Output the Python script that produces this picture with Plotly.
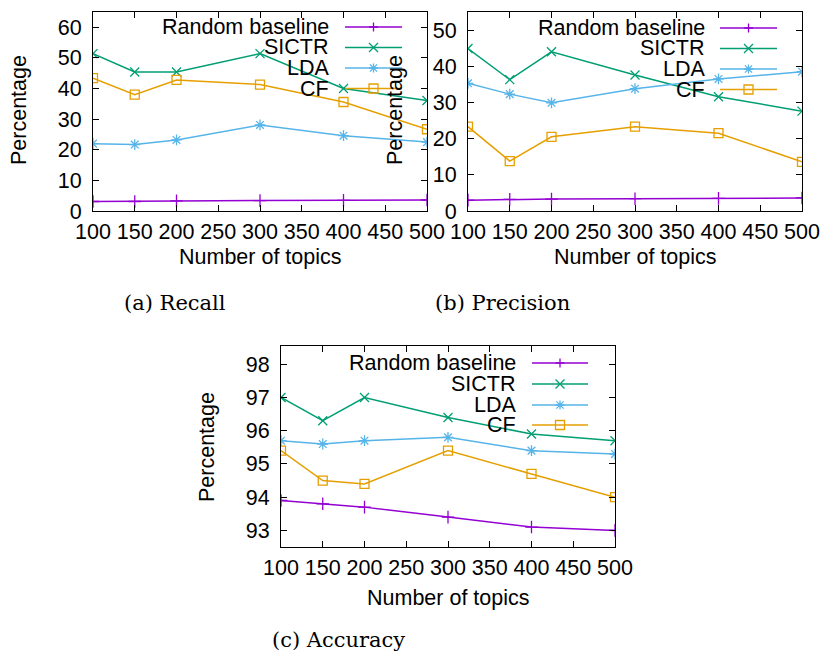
import plotly.graph_objects as go

W, H = 825, 652

topics = [100, 150, 200, 300, 400, 500]
series_names = ["Random baseline", "SICTR", "LDA", "CF"]

recall_random = [3.1, 3.1, 3.3, 3.4, 3.5, 3.6]
recall_sictr = [51.4, 45.4, 45.4, 51.4, 40.0, 36.1]
recall_lda = [22.0, 21.7, 23.2, 28.1, 24.6, 22.5]
recall_cf = [43.4, 38.0, 42.8, 41.3, 35.6, 26.7]

precision_random = [3.0, 3.2, 3.3, 3.4, 3.5, 3.6]
precision_sictr = [44.9, 36.3, 44.0, 37.6, 31.6, 27.6]
precision_lda = [35.3, 32.3, 29.9, 33.8, 36.5, 38.5]
precision_cf = [23.3, 13.8, 20.5, 23.3, 21.5, 13.6]

accuracy_random = [93.9, 93.8, 93.7, 93.4, 93.1, 93.0]
accuracy_sictr = [97.0, 96.3, 97.0, 96.4, 95.9, 95.7]
accuracy_lda = [95.7, 95.6, 95.7, 95.8, 95.4, 95.3]
accuracy_cf = [95.4, 94.5, 94.4, 95.4, 94.7, 94.0]

x_ticks = [100, 150, 200, 250, 300, 350, 400, 450, 500]
captions = ["(a) Recall", "(b) Precision", "(c) Accuracy"]

colors = ["#9400D3", "#009E73", "#56B4E9", "#E69F00"]
symbols = ["cross-thin-open", "x-thin-open", "asterisk-open", "square-open"]

FONT = "Liberation Sans"
FS = 21.5

def px(x):
    return x / W

def py(y):
    return 1 - y / H

# panel pixel boxes: (left, right, top, bottom)
panels = [
    dict(box=(93, 427, 12, 211), yr=[0, 65], dt=10,
         data=[recall_random, recall_sictr, recall_lda, recall_cf],
         leg=dict(tx=331, l0=345, l1=402, ys=[27, 47.5, 68, 88.5]),
         ytitle=(19, 110), xtitle=(260, 257), cap=(175, 303)),
    dict(box=(468, 802, 12, 211), yr=[0, 55], dt=10,
         data=[precision_random, precision_sictr, precision_lda, precision_cf],
         leg=dict(tx=707, l0=720, l1=777, ys=[28, 48.5, 69, 89.5]),
         ytitle=(395, 110), xtitle=(635, 257), cap=(502, 303)),
    dict(box=(281, 615, 346, 547), yr=[92.5, 98.55], dt=1,
         data=[accuracy_random, accuracy_sictr, accuracy_lda, accuracy_cf],
         leg=dict(tx=518, l0=532, l1=588, ys=[363, 384, 405, 425]),
         ytitle=(207, 447), xtitle=(448, 598), cap=(338, 640)),
]

fig = go.Figure()
annotations = []
shapes = []

for i, p in enumerate(panels):
    n = "" if i == 0 else str(i + 1)
    L, R, T, B = p["box"]
    axis_common = dict(showline=True, linecolor="black", linewidth=1,
                       mirror="ticks", ticks="inside", ticklen=6,
                       tickcolor="black", tickwidth=1, showgrid=False,
                       zeroline=False, automargin=False,
                       tickfont=dict(family=FONT, size=FS, color="black"))
    fig.layout["xaxis" + n] = dict(domain=[px(L), px(R)], range=[100, 500],
                                   tickvals=x_ticks, anchor="y" + n,
                                   ticklabelstandoff=1, **axis_common)
    fig.layout["yaxis" + n] = dict(domain=[py(B), py(T)], range=p["yr"],
                                   dtick=p["dt"], anchor="x" + n,
                                   ticklabelstandoff=6, **axis_common)
    for k in range(4):
        fig.add_trace(go.Scatter(
            x=topics, y=p["data"][k], mode="lines+markers",
            name=series_names[k], showlegend=False,
            line=dict(color=colors[k], width=1.5),
            marker=dict(symbol=symbols[k], size=9, color=colors[k],
                        line=dict(color=colors[k], width=1.3)),
            xaxis="x" + n, yaxis="y" + n))
    # legend (gnuplot style: text right aligned, sample on right)
    lg = p["leg"]
    for k in range(4):
        yy = lg["ys"][k]
        annotations.append(dict(x=px(lg["tx"]), y=py(yy), xref="paper", yref="paper",
                                text=series_names[k], showarrow=False,
                                xanchor="right", yanchor="middle",
                                font=dict(family=FONT, size=FS, color="black")))
        shapes.append(dict(type="line", xref="paper", yref="paper",
                           x0=px(lg["l0"]), x1=px(lg["l1"]), y0=py(yy), y1=py(yy),
                           line=dict(color=colors[k], width=1.5)))
        mx = (lg["l0"] + lg["l1"]) / 2
        s = 4.5
        if k == 0:
            path = f"M{px(mx-s)},{py(yy)} L{px(mx+s)},{py(yy)} M{px(mx)},{py(yy-s)} L{px(mx)},{py(yy+s)}"
        elif k == 1:
            path = f"M{px(mx-s)},{py(yy-s)} L{px(mx+s)},{py(yy+s)} M{px(mx-s)},{py(yy+s)} L{px(mx+s)},{py(yy-s)}"
        elif k == 2:
            path = (f"M{px(mx-s)},{py(yy)} L{px(mx+s)},{py(yy)} M{px(mx)},{py(yy-s)} L{px(mx)},{py(yy+s)}"
                    f" M{px(mx-s*0.8)},{py(yy-s*0.8)} L{px(mx+s*0.8)},{py(yy+s*0.8)}"
                    f" M{px(mx-s*0.8)},{py(yy+s*0.8)} L{px(mx+s*0.8)},{py(yy-s*0.8)}")
        else:
            path = (f"M{px(mx-s)},{py(yy-s)} L{px(mx+s)},{py(yy-s)} L{px(mx+s)},{py(yy+s)}"
                    f" L{px(mx-s)},{py(yy+s)} Z")
        shapes.append(dict(type="path", xref="paper", yref="paper", path=path,
                           line=dict(color=colors[k], width=1.3)))
    # axis titles
    annotations.append(dict(x=px(p["ytitle"][0]), y=py(p["ytitle"][1]), xref="paper",
                            yref="paper", text="Percentage", textangle=-90,
                            showarrow=False, xanchor="center", yanchor="middle",
                            font=dict(family=FONT, size=FS, color="black")))
    annotations.append(dict(x=px(p["xtitle"][0]), y=py(p["xtitle"][1]), xref="paper",
                            yref="paper", text="Number of topics",
                            showarrow=False, xanchor="center", yanchor="middle",
                            font=dict(family=FONT, size=FS, color="black")))
    annotations.append(dict(x=px(p["cap"][0]), y=py(p["cap"][1]), xref="paper",
                            yref="paper", text=captions[i],
                            showarrow=False, xanchor="center", yanchor="middle",
                            font=dict(family="DejaVu Serif", size=21, color="black")))

fig.update_layout(template="none", width=W, height=H,
                  margin=dict(l=0, r=0, t=0, b=0),
                  paper_bgcolor="white", plot_bgcolor="white",
                  annotations=annotations, shapes=shapes, showlegend=False)

fig.write_html("out.html", config={"displayModeBar": False},
               post_script="document.body.style.margin='0';document.body.style.overflow='hidden';")
